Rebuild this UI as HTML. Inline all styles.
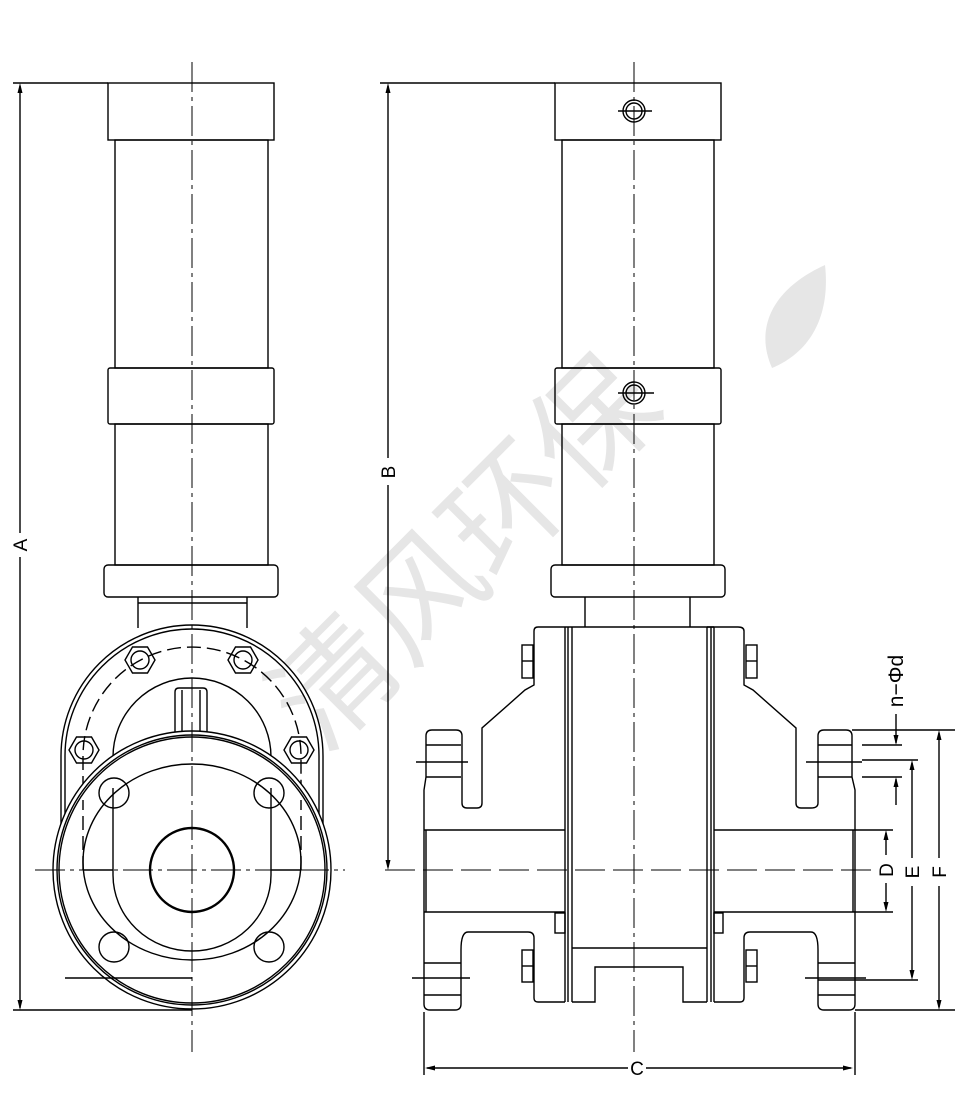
<!DOCTYPE html>
<html><head><meta charset="utf-8"><style>html,body{margin:0;padding:0;background:#fff}svg{display:block}</style></head>
<body>
<svg width="976" height="1095" viewBox="0 0 976 1095" xmlns="http://www.w3.org/2000/svg" font-family="Liberation Sans, sans-serif">
<!-- watermark -->
<g fill="#e6e6e6">
<text x="0" y="0" font-size="122" font-family="Liberation Sans, Noto Sans CJK SC, sans-serif" transform="translate(322,755) rotate(-45)">清风环保</text>
<path d="M772 368 C 755 330, 770 290, 825 265 C 830 310, 815 350, 772 368 Z" />
</g>
<g fill="none" stroke="#000" stroke-width="1.4">
<!-- ===== LEFT VIEW ===== -->
<rect x="108" y="83" width="166" height="57"/>
<rect x="115" y="140" width="153" height="228"/>
<rect x="108" y="368" width="166" height="56" rx="2"/>
<rect x="115" y="424" width="153" height="141"/>
<rect x="104" y="565" width="174" height="32" rx="4"/>
<path d="M138 597 V628 M247 597 V628 M138 603 H247"/>
<path d="M61 870 V756 A131 131 0 0 1 323 756 V870"/>
<path d="M65 870 V756 A127 127 0 0 1 319 756 V870"/>
<path d="M83 870 V756 A109 109 0 0 1 301 756 V870" stroke-dasharray="14 6"/>
<path d="M113 870 V757 A79 79 0 0 1 271 757 V870"/>
<path d="M175 735 V692 Q175 688 179 688 H203 Q207 688 207 692 V735 M182 690 V735 M200 690 V735"/>
<g>
<polygon points="125,660 132.5,647 147.5,647 155,660 147.5,673 132.5,673"/><circle cx="140" cy="660" r="9"/>
<polygon points="228,660 235.5,647 250.5,647 258,660 250.5,673 235.5,673"/><circle cx="243" cy="660" r="9"/>
<polygon points="69,750 76.5,737 91.5,737 99,750 91.5,763 76.5,763"/><circle cx="84" cy="750" r="9"/>
<polygon points="284,750 291.5,737 306.5,737 314,750 306.5,763 291.5,763"/><circle cx="299" cy="750" r="9"/>
</g>
<circle cx="192" cy="870" r="139" fill="#fff"/>
<circle cx="192" cy="870" r="135"/>
<circle cx="192" cy="870" r="133"/>
<ellipse cx="192" cy="862" rx="109" ry="98"/>
<path d="M83 870 V800 M301 870 V800" stroke-dasharray="14 6"/>
<path d="M113 870 V788 M271 870 V788"/>
<path d="M83 870 H113 M271 870 H301"/>
<circle cx="114" cy="793" r="15"/><circle cx="269" cy="793" r="15"/>
<circle cx="114" cy="947" r="15"/><circle cx="269" cy="947" r="15"/>
<path d="M113 870 V875 A79 76 0 0 0 271 875 V870" />
<circle cx="192" cy="870" r="42" stroke-width="2.4"/>
<path d="M65 978 H192 M13 1010 H192"/>
<path d="M192 62 V1052" stroke-width="1" stroke-dasharray="30 5 4 5"/>
<path d="M35 870 H345" stroke-width="1" stroke-dasharray="30 5 4 5"/>
<path d="M13 83 H108 M20 86 V533 M20 557 V1008"/>
<!-- ===== RIGHT VIEW ===== -->
<rect x="555" y="83" width="166" height="57"/>
<rect x="562" y="140" width="152" height="228"/>
<rect x="555" y="368" width="166" height="56" rx="2"/>
<rect x="562" y="424" width="152" height="141"/>
<rect x="551" y="565" width="174" height="32" rx="4"/>
<path d="M585 597 V627 M690 597 V627"/>
<circle cx="634" cy="111" r="11"/><circle cx="634" cy="111" r="8"/><path d="M618 111 H652"/>
<circle cx="634" cy="393" r="11"/><circle cx="634" cy="393" r="8"/><path d="M618 393 H654"/>
<path d="M565 627 H538 Q534 627 534 631 V685 L525 690 L482 728 V803 Q482 808 477 808 H467 Q462 808 462 803 V736 Q462 730 456 730 H432 Q426 730 426 736 V777 L424 790 V1004 Q424 1010 430 1010 H455 Q461 1010 461 1004 V950 Q461 932 468 932 H528 Q534 932 534 938 V998 Q534 1002 538 1002 H565"/>
<path d="M426 745 H461 M426 762 H461 M426 777 H461 M416 762 H468"/>
<path d="M424 963 H461 M424 978 H461 M424 995 H461 M412 978 H470"/>
<path d="M707 627 H738 Q744 627 744 631 V685 L753 690 L796 728 V803 Q796 808 801 808 H811 Q818 808 818 803 V736 Q818 730 824 730 H846 Q852 730 852 736 V777 L855 790 V1004 Q855 1010 849 1010 H824 Q818 1010 818 1004 V950 Q818 932 811 932 H750 Q744 932 744 938 V998 Q744 1002 740 1002 H714"/>
<path d="M818 745 H852 M818 762 H852 M818 777 H852 M806 762 H862"/>
<path d="M818 963 H855 M818 978 H855 M818 995 H855 M805 978 H866"/>
<path d="M424 830 H565 M424 912 H565 M714 830 H855 M714 912 H855 M426 830 V912 M853 830 V912"/>
<path d="M565 627 V1002 M568 627 V1002 M572 627 V1002 M707 627 V1002 M711 627 V1002 M714 627 V1002"/>
<path d="M565 627 H714"/>
<path d="M572 948 H707 M572 1002 H595 V967 H683 V1002 H707"/>
<rect x="522" y="645" width="11" height="33"/><path d="M522 661 H533"/>
<rect x="522" y="950" width="11" height="32"/><path d="M522 966 H533"/>
<rect x="746" y="645" width="11" height="33"/><path d="M746 661 H757"/>
<rect x="746" y="950" width="11" height="32"/><path d="M746 966 H757"/>
<rect x="555" y="913" width="10" height="20"/><rect x="714" y="913" width="9" height="20"/>
<path d="M634 62 V1052" stroke-width="1" stroke-dasharray="30 5 4 5"/>
<path d="M385 870 H875" stroke-width="1" stroke-dasharray="30 8"/>
<path d="M380 83 H555 M388 86 V458 M388 485 V867"/>
<path d="M424 1012 V1075 M855 1012 V1075 M427 1068 H628 M646 1068 H851"/>
<path d="M855 830 H893 M855 912 H893 M886 833 V855 M886 883 V909"/>
<path d="M852 730 H955 M855 1010 H955 M939 733 V858 M939 886 V1007"/>
<path d="M862 760 H918 M818 980 H918 M912 763 V858 M912 886 V977"/>
<path d="M862 745 H902 M862 777 H902 M896 714 V743 M896 779 V805"/>
</g>
<g fill="#000">
<path d="M20 83 l-2.5 10 h5 z M20 1010 l-2.5 -10 h5 z"/>
<path d="M388 83 l-2.5 10 h5 z M388 870 l-2.5 -10 h5 z"/>
<path d="M425 1068 l10 -2.5 v5 z M853 1068 l-10 -2.5 v5 z"/>
<path d="M886 830 l-2.5 10 h5 z M886 912 l-2.5 -10 h5 z"/>
<path d="M912 760 l-2.5 10 h5 z M912 980 l-2.5 -10 h5 z"/>
<path d="M939 730 l-2.5 10 h5 z M939 1010 l-2.5 -10 h5 z"/>
<path d="M896 745 l-2.5 -10 h5 z M896 777 l-2.5 10 h5 z"/>
</g>
<g font-size="19" fill="#000" text-anchor="middle">
<text transform="translate(27,545) rotate(-90)">A</text>
<text transform="translate(395,472) rotate(-90)">B</text>
<text x="637" y="1075">C</text>
<text transform="translate(893,870) rotate(-90)">D</text>
<text transform="translate(919,872) rotate(-90)">E</text>
<text transform="translate(946,872) rotate(-90)">F</text>
<text transform="translate(903,681) rotate(-90)" font-size="21">n−Φd</text>
</g>
</svg>
</body></html>
